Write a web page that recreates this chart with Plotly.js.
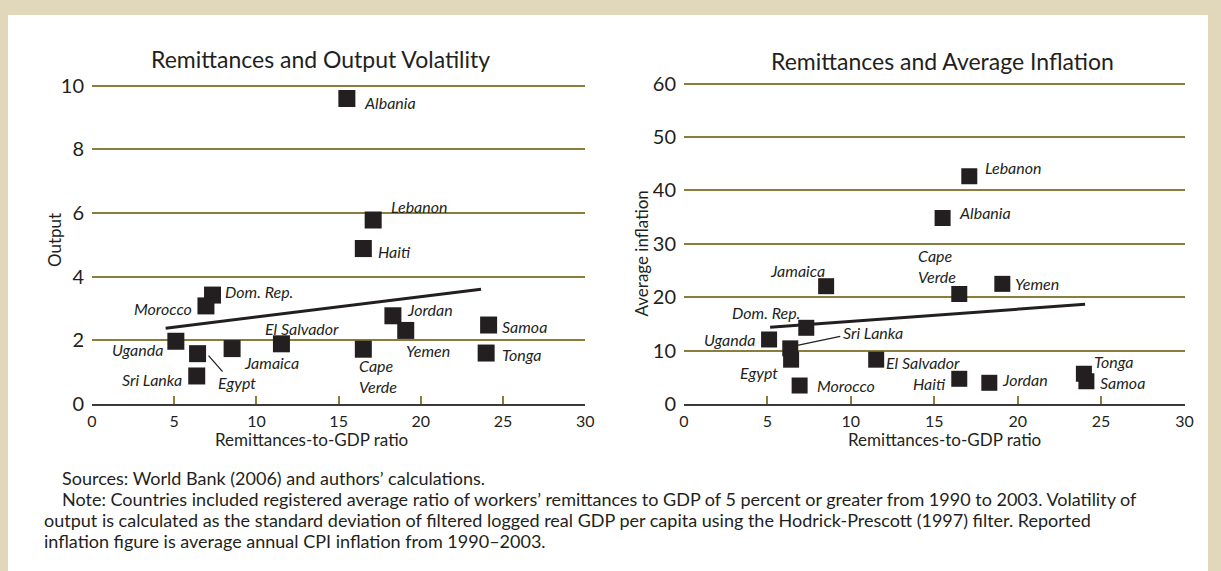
<!DOCTYPE html>
<html><head><meta charset="utf-8">
<script src="https://cdn.plot.ly/plotly-3.0.1.min.js"></script>
<style>html,body{margin:0;padding:0;background:#fff;}#chart{width:1221px;height:571px;}</style>
</head><body><div id="chart"></div>
<script>
// ---------------- data ----------------
const countries = ["Albania","Lebanon","Haiti","Jordan","Yemen","Cape Verde","Samoa","Tonga","Dom. Rep.","Morocco","Uganda","Egypt","Sri Lanka","Jamaica","El Salvador"];
const remittanceRatio = [15.5, 17.1, 16.5, 18.3, 19.08, 16.5, 24.12, 23.97, 7.33, 6.93, 5.1, 6.42, 6.37, 8.52, 11.52];
const outputVolatility = [9.59, 5.78, 4.88, 2.77, 2.31, 1.72, 2.48, 1.60, 3.42, 3.08, 1.97, 1.58, 0.88, 1.74, 1.89];
const avgInflation = [34.83, 42.66, 4.72, 3.97, 22.5, 20.6, 4.27, 5.66, 14.27, 3.46, 12.08, 8.3, 10.42, 22.06, 8.3];
const trendVolX = [4.48, 23.66];
const trendVolY = [2.38, 3.60];
const trendInfX = [5.16, 24.04];
const trendInfY = [14.36, 18.67];
const volTicksX = [0, 5, 10, 15, 20, 25, 30];
const volTicksY = [0, 2, 4, 6, 8, 10];
const infTicksY = [0, 10, 20, 30, 40, 50, 60];
const labelText = {"Cape Verde": "Cape<br>Verde"};

// ---------------- label placement (pixel offsets from marker centre) ----------------
const volLabelPos = {
  "Albania": ["left", 15, -4], "Lebanon": ["left", 16, 13], "Haiti": ["left", 13, -3],
  "Jordan": ["left", 12, 6], "Yemen": ["left", -2, -20], "Cape Verde": ["left", -6, -27],
  "Samoa": ["left", 11, -1], "Tonga": ["left", 14, -1], "Dom. Rep.": ["left", 10, 4],
  "Morocco": ["right", -12, -3], "Uganda": ["right", -11, -8], "Egypt": ["left", 18, -29],
  "Sri Lanka": ["right", -13, -4], "Jamaica": ["left", 10, -14], "El Salvador": ["left", -18, 15]
};
const infLabelPos = {
  "Albania": ["left", 14, 6], "Lebanon": ["left", 14, 9], "Haiti": ["right", -11, -5],
  "Jordan": ["left", 11, 3], "Yemen": ["left", 11, 0], "Cape Verde": ["left", -43, 28],
  "Samoa": ["left", 12, -1], "Tonga": ["left", 8, 12], "Dom. Rep.": ["right", -4, 15],
  "Morocco": ["left", 15, 0], "Uganda": ["right", -12, 0], "Egypt": ["right", -11, -13],
  "Sri Lanka": ["left", 51, 16], "Jamaica": ["right", 1, 16], "El Salvador": ["left", 8, -3]
};

const OLIVE = "#8b7e3d", INK = "#231f20", BEIGE = "#e1d7bb";
const FONT = "Lato, 'Open Sans', sans-serif";
const W = 1221, H = 571;
const px = v => v / W, py = v => 1 - v / H;

const traces = [
  {x: remittanceRatio, y: outputVolatility, type: "scatter", mode: "markers", xaxis: "x", yaxis: "y",
   marker: {symbol: "square", size: 17, color: INK}, hoverinfo: "skip"},
  {x: trendVolX, y: trendVolY, type: "scatter", mode: "lines", xaxis: "x", yaxis: "y",
   line: {color: INK, width: 3}, hoverinfo: "skip"},
  {x: remittanceRatio, y: avgInflation, type: "scatter", mode: "markers", xaxis: "x2", yaxis: "y2",
   marker: {symbol: "square", size: 16, color: INK}, hoverinfo: "skip"},
  {x: trendInfX, y: trendInfY, type: "scatter", mode: "lines", xaxis: "x2", yaxis: "y2",
   line: {color: INK, width: 3}, hoverinfo: "skip"}
];

const annotations = [];
function addLabels(yvals, pos, xr, yr) {
  countries.forEach((c, i) => {
    const p = pos[c];
    annotations.push({x: remittanceRatio[i], y: yvals[i], xref: xr, yref: yr,
      text: labelText[c] || c, showarrow: false, xanchor: p[0], yanchor: "middle", align: "left",
      xshift: p[1], yshift: p[2], font: {family: FONT, size: 16, color: INK, style: "italic"}});
  });
}
addLabels(outputVolatility, volLabelPos, "x", "y");
addLabels(avgInflation, infLabelPos, "x2", "y2");

function textAt(x, y, t, size, anchor, extra) {
  annotations.push(Object.assign({x: px(x), y: py(y), xref: "paper", yref: "paper", text: t,
    showarrow: false, xanchor: anchor, yanchor: "middle", font: {family: FONT, size: size, color: INK}}, extra || {}));
}
textAt(320, 59, "Remittances and Output Volatility", 23, "center");
textAt(942.5, 61, "Remittances and Average Inflation", 23, "center");
textAt(54, 240, "Output", 17, "center", {textangle: -90});
textAt(641, 253.5, "Average inflation", 17, "center", {textangle: -90});
textAt(311, 440, "Remittances-to-GDP ratio", 17, "center");
textAt(944.5, 440, "Remittances-to-GDP ratio", 17, "center");
textAt(60, 477.5, "Sources: World Bank (2006) and authors’ calculations.", 18, "left");
textAt(60, 498.5, "Note: Countries included registered average ratio of workers’ remittances to GDP of 5 percent or greater from 1990 to 2003. Volatility of", 18, "left");
textAt(42, 519.5, "output is calculated as the standard deviation of filtered logged real GDP per capita using the Hodrick-Prescott (1997) filter. Reported", 18, "left");
textAt(42, 540.5, "inflation figure is average annual CPI inflation from 1990–2003.", 18, "left");

const shapes = [
  {type: "rect", xref: "paper", yref: "paper", x0: px(8), x1: px(1208), y0: -0.05, y1: py(15),
   fillcolor: "#ffffff", line: {width: 0}, layer: "below"},
  {type: "line", xref: "x", yref: "y", xsizemode: "pixel", ysizemode: "pixel",
   xanchor: remittanceRatio[11], yanchor: outputVolatility[11], x0: 11, x1: 25, y0: -2, y1: -18,
   line: {color: INK, width: 1.3}},
  {type: "line", xref: "x2", yref: "y2", xsizemode: "pixel", ysizemode: "pixel",
   xanchor: remittanceRatio[12], yanchor: avgInflation[12], x0: 7, x1: 50, y0: 3, y1: 12,
   line: {color: INK, width: 1.3}}
];

const xCommon = {range: [0, 30], tickvals: volTicksX, ticks: "inside", ticklen: 8, tickwidth: 2, tickcolor: OLIVE,
  showline: true, linecolor: "#3a3a3a", linewidth: 2, showgrid: false, zeroline: false, ticklabelstandoff: 2,
  tickfont: {family: FONT, size: 16, color: INK}, fixedrange: true};
const yCommon = {showgrid: true, gridcolor: OLIVE, gridwidth: 2, zeroline: false, showline: false, ticks: "",
  ticklabelstandoff: 7, tickfont: {family: FONT, size: 20, color: INK}, fixedrange: true};

// ranges extend a hair past the top tick so its gridline is drawn
const volTop = 10.1, infTop = 60.5;
const volUnit = (404 - 85.5) / 10, infUnit = (404 - 83.6) / 60;

const layout = {
  width: W, height: H, margin: {l: 0, r: 0, t: 0, b: 0},
  paper_bgcolor: BEIGE, plot_bgcolor: "#ffffff", showlegend: false,
  font: {family: FONT, color: INK},
  xaxis: Object.assign({}, xCommon, {domain: [px(92), px(585.3)], anchor: "y"}),
  yaxis: Object.assign({}, yCommon, {domain: [py(404), py(404 - volTop * volUnit)], range: [0, volTop], tickvals: volTicksY, anchor: "x"}),
  xaxis2: Object.assign({}, xCommon, {domain: [px(684), px(1184.5)], anchor: "y2"}),
  yaxis2: Object.assign({}, yCommon, {domain: [py(404), py(404 - infTop * infUnit)], range: [0, infTop], tickvals: infTicksY, anchor: "x2"}),
  annotations: annotations, shapes: shapes
};
Plotly.newPlot("chart", traces, layout, {staticPlot: true, displayModeBar: false});
</script></body></html>
